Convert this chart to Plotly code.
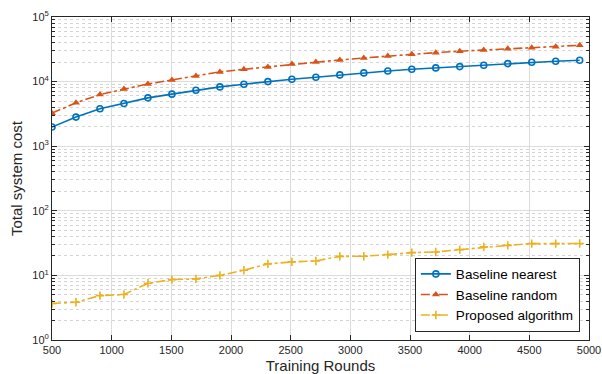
import plotly.graph_objects as go

rounds = [500, 701, 902, 1103, 1304, 1505, 1706, 1907, 2108, 2309, 2510, 2711,
          2912, 3113, 3314, 3515, 3716, 3917, 4118, 4319, 4520, 4721, 4922]
nearest = [1980, 2820, 3790, 4570, 5600, 6390, 7360, 8280, 9120, 10000, 10900, 11700,
           12700, 13630, 14630, 15500, 16300, 17060, 17920, 18980, 19950, 20660, 21420]
random_ = [3250, 4690, 6300, 7710, 9210, 10620, 12250, 14130, 15500, 16870, 18770, 20150,
           21640, 23240, 24960, 26500, 28050, 29510, 30900, 32380, 33560, 34750, 36500]
proposed = [3.67, 3.84, 4.87, 5.05, 7.55, 8.61, 8.83, 10.0, 12.0, 15.06, 16.17, 16.75,
            19.7, 19.8, 20.96, 22.5, 23.07, 25.05, 27.6, 29.2, 31.0, 31.0, 31.2]

xticks = [500, 1000, 1500, 2000, 2500, 3000, 3500, 4000, 4500, 5000]
yticks = [1, 10, 100, 1000, 10000, 100000]
yticktext = ["10<sup>%d</sup>" % i for i in range(6)]

BLUE = "#0072BD"
ORANGE = "#D95319"
YELLOW = "#EDB120"

fig = go.Figure()
fig.add_trace(go.Scatter(x=rounds, y=nearest, name="Baseline nearest", mode="lines+markers",
                         line=dict(color=BLUE, width=1.6),
                         marker=dict(symbol="circle-open", size=6, line=dict(width=1.6, color=BLUE))))
fig.add_trace(go.Scatter(x=rounds, y=random_, name="Baseline random", mode="lines+markers",
                         line=dict(color=ORANGE, width=1.6, dash="dashdot"),
                         marker=dict(symbol="triangle-up", size=7, color=ORANGE)))
fig.add_trace(go.Scatter(x=rounds, y=proposed, name="Proposed algorithm", mode="lines+markers",
                         line=dict(color=YELLOW, width=1.6, dash="dashdot"),
                         marker=dict(symbol="cross-thin", size=6, line=dict(width=1.6, color=YELLOW))))

axis_common = dict(
    showline=True, linecolor="#262626", linewidth=1, mirror="ticks",
    ticks="inside", ticklen=5, tickcolor="#262626",
    showgrid=True, gridcolor="#dcdcdc", gridwidth=1,
    tickfont=dict(size=11, color="#262626"),
    zeroline=False, automargin=False,
)

fig.update_xaxes(range=[500, 5000], tickvals=xticks, ticktext=[str(v) for v in xticks],
                 title=dict(text="Training Rounds", font=dict(size=15, color="#262626"), standoff=9),
                 **axis_common)
fig.update_yaxes(type="log", range=[0, 5], tickvals=yticks, ticktext=yticktext,
                 title=dict(text="Total system cost", font=dict(size=15, color="#262626"), standoff=6),
                 minor=dict(ticks="inside", ticklen=3, tickcolor="#262626", showgrid=True,
                            gridcolor="#d4d4d4", griddash="dot", dtick="D1"),
                 **axis_common)

fig.update_layout(
    width=602, height=374,
    margin=dict(l=52, r=13, t=17, b=34),
    paper_bgcolor="white", plot_bgcolor="white",
    font=dict(family="Liberation Sans, Arial, sans-serif", color="#262626"),
    legend=dict(x=0.983, y=0.026, xanchor="right", yanchor="bottom",
                bgcolor="white", bordercolor="#262626", borderwidth=1,
                font=dict(size=13.5, color="black"), tracegroupgap=0,
                itemwidth=30),
    showlegend=True,
)

fig.write_html("out.html")
